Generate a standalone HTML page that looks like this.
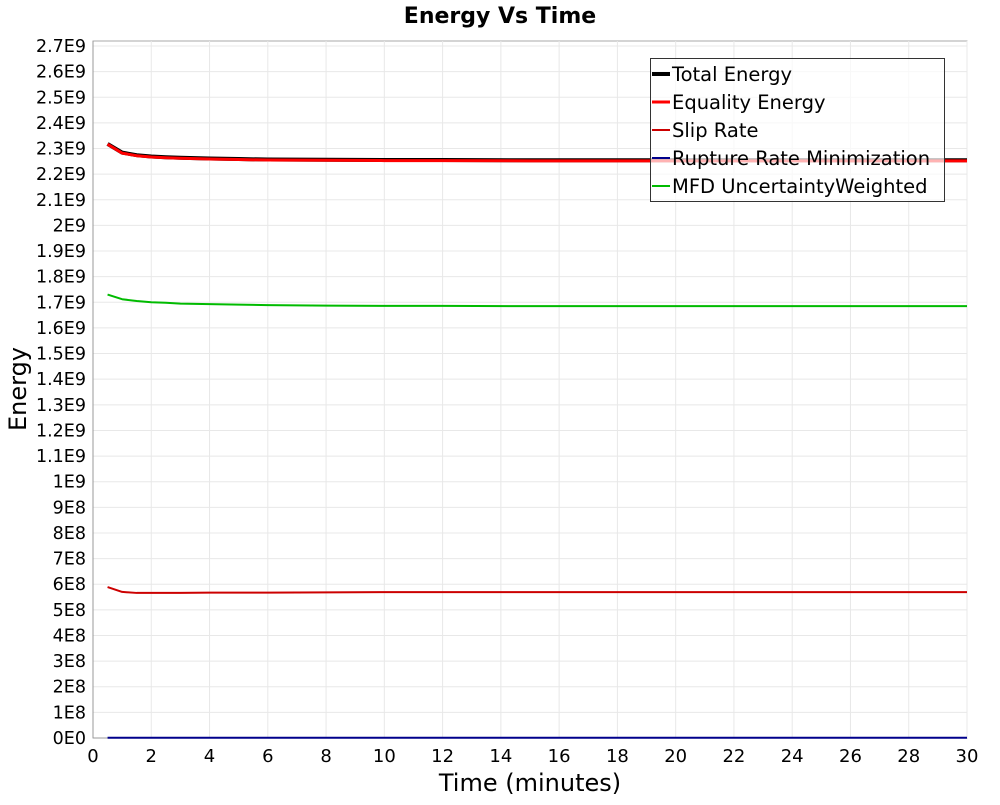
<!DOCTYPE html>
<html><head><meta charset="utf-8"><style>
body{margin:0;background:#fff;font-family:"Liberation Sans","DejaVu Sans",sans-serif;}
svg text{font-family:"DejaVu Sans","Liberation Sans",sans-serif;}
</style></head><body>
<svg id="chart" width="1000" height="800" xmlns="http://www.w3.org/2000/svg">
<rect width="1000" height="800" fill="#fff"/>
<text x="500" y="23" text-anchor="middle" font-size="22" font-weight="bold">Energy Vs Time</text>
<g id="grid"></g><g id="axes"></g><g id="series"></g>
<text x="530" y="791" text-anchor="middle" font-size="24">Time (minutes)</text>
<text transform="translate(26,389) rotate(-90)" text-anchor="middle" font-size="24">Energy</text>
<g id="legend"></g>
</svg>
<script>
const times=[0.5,1,1.5,2,2.5,3,4,5,6,8,10,12,15,20,25,30];
const totalEnergy=[2.318e9,2.284e9,2.274e9,2.269e9,2.266e9,2.264e9,2.261e9,2.259e9,2.257e9,2.256e9,2.255e9,2.255e9,2.254e9,2.254e9,2.254e9,2.254e9];
const equalityEnergy=[2.317e9,2.282e9,2.272e9,2.267e9,2.264e9,2.262e9,2.259e9,2.257e9,2.255e9,2.254e9,2.253e9,2.253e9,2.252e9,2.252e9,2.252e9,2.252e9];
const slipRate=[5.89e8,5.70e8,5.66e8,5.66e8,5.66e8,5.66e8,5.67e8,5.67e8,5.67e8,5.68e8,5.69e8,5.69e8,5.69e8,5.69e8,5.69e8,5.69e8];
const ruptureRate=[1e6,1e6,1e6,1e6,1e6,1e6,1e6,1e6,1e6,1e6,1e6,1e6,1e6,1e6,1e6,1e6];
const mfdWeighted=[1.73e9,1.712e9,1.705e9,1.700e9,1.698e9,1.695e9,1.693e9,1.691e9,1.689e9,1.687e9,1.686e9,1.686e9,1.685e9,1.685e9,1.685e9,1.685e9];
const yTickLabels=["0E0","1E8","2E8","3E8","4E8","5E8","6E8","7E8","8E8","9E8","1E9","1.1E9","1.2E9","1.3E9","1.4E9","1.5E9","1.6E9","1.7E9","1.8E9","1.9E9","2E9","2.1E9","2.2E9","2.3E9","2.4E9","2.5E9","2.6E9","2.7E9"];
const xTickLabels=["0","2","4","6","8","10","12","14","16","18","20","22","24","26","28","30"];
const NS="http://www.w3.org/2000/svg";
const L=93,R=967,T=41,B=738,XMAX=30;
const Y0=738,YPER=(738-46)/2.7e9;
function sx(v){return L+v*(R-L)/XMAX;}
function sy(v){return Y0-v*YPER;}
function mk(tag,attrs,parent){const e=document.createElementNS(NS,tag);for(const k in attrs)e.setAttribute(k,attrs[k]);parent.appendChild(e);return e;}
const grid=document.getElementById('grid'),axes=document.getElementById('axes'),ser=document.getElementById('series'),leg=document.getElementById('legend');
mk('rect',{x:L,y:T,width:R-L,height:B-T,fill:'#fff',stroke:'#aaa'},grid);
yTickLabels.forEach((t,i)=>{const y=sy(i*1e8);
 const g=mk('line',{x1:L,x2:R,y1:y,y2:y,stroke:'#e8e8e8'},grid);
 
 
 const tx=mk('text',{x:L-7,y:y+6,'text-anchor':'end','font-size':17.5},axes);tx.textContent=t;
 
 
});
xTickLabels.forEach(t=>{const x=sx(+t);
 const g=mk('line',{x1:x,x2:x,y1:T,y2:B,stroke:'#e8e8e8'},grid);
 
 
 const tx=mk('text',{x:x,y:B+24,'text-anchor':'middle','font-size':18},axes);tx.textContent=t;
 
 
});
mk('line',{x1:L,x2:L,y1:T,y2:B,stroke:'#999'},axes);
mk('line',{x1:L,x2:R,y1:B,y2:B,stroke:'#999'},axes);
const series=[
 {name:'Total Energy',data:totalEnergy,color:'#000',w:4,id:'total-energy-line'},
 {name:'Equality Energy',data:equalityEnergy,color:'#ff0000',w:3,id:'equality-energy-line'},
 {name:'Slip Rate',data:slipRate,color:'#cc0000',w:2,id:'slip-rate-line'},
 {name:'Rupture Rate Minimization',data:ruptureRate,color:'#00008b',w:2,id:'rupture-rate-line'},
 {name:'MFD UncertaintyWeighted',data:mfdWeighted,color:'#00bb00',w:2,id:'mfd-line'}];
series.forEach(s=>{
 const p=mk('polyline',{points:times.map((t,i)=>sx(t)+','+sy(s.data[i])).join(' '),fill:'none',stroke:s.color,'stroke-width':s.w,'stroke-linejoin':'round'},ser);
 
 
});
mk('rect',{x:650.5,y:58.5,width:294,height:143,fill:'rgba(255,255,255,0.7)',stroke:'#333'},leg);
series.forEach((s,i)=>{const y=74+i*28;
 const l=mk('line',{x1:652,x2:670,y1:y,y2:y,stroke:s.color,'stroke-width':i==0?4:(i==1?3:2)},leg);
 
 
 const tx=mk('text',{x:672,y:y+7,'font-size':19.5},leg);tx.textContent=s.name;
 
 
});
</script>
</body></html>
